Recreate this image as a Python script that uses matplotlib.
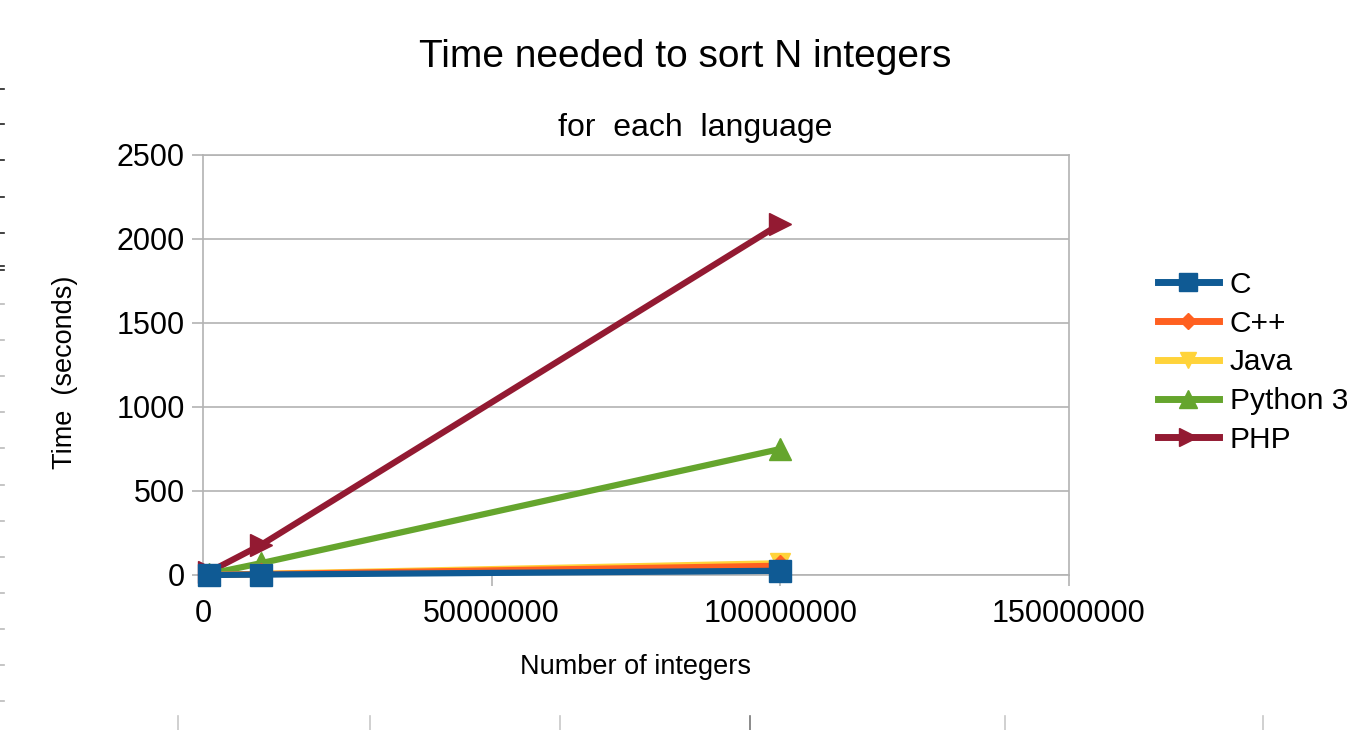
import matplotlib
matplotlib.use("Agg")
import matplotlib.pyplot as plt
from matplotlib.lines import Line2D

plt.rcParams['font.family'] = ['Liberation Sans', 'DejaVu Sans']

n_values = [1000000, 10000000, 100000000]
series_names = ["C", "C++", "Java", "Python 3", "PHP"]
c_times = [0.2, 2.5, 25]
cpp_times = [0.4, 5, 55]
java_times = [0.8, 7, 70]
python_times = [6, 70, 750]
php_times = [17, 178, 2090]
y_ticks = [0, 500, 1000, 1500, 2000, 2500]
x_ticks = [0, 50000000, 100000000, 150000000]

colors = ["#0f5a94", "#ff6020", "#ffd33a", "#65a52d", "#931a32"]
markers = ["s", "D", "v", "^", ">"]
msizes = [16, 11, 15, 16, 16]
all_times = [c_times, cpp_times, java_times, python_times, php_times]

W, H = 1366, 730
fig = plt.figure(figsize=(W / 100, H / 100), dpi=100)
ax = fig.add_axes([203 / W, 1 - 575 / H, (1069 - 203) / W, (575 - 155) / H])

order = [4, 3, 2, 1, 0]
for i in order:
    ax.plot(n_values, all_times[i], color=colors[i], lw=4.5, marker=markers[i],
            markersize=msizes[i], markeredgecolor=colors[i], solid_capstyle='butt',
            zorder=3 + (5 - i), clip_on=False)

ax.set_xlim(0, 150000000)
ax.set_ylim(0, 2500)
ax.set_xticks(x_ticks)
ax.set_xticklabels([str(v) for v in x_ticks])
ax.set_yticks(y_ticks)
ax.set_yticklabels([str(v) for v in y_ticks])
ax.grid(True, axis='y', color='#b3b3b3', lw=1.2)
ax.grid(False, axis='x')
for s in ax.spines.values():
    s.set_color('#b3b3b3')
    s.set_linewidth(1.2)
ax.tick_params(axis='both', colors='#b3b3b3', length=8, width=1.2, labelsize=22,
               labelcolor='black')
ax.tick_params(axis='x', pad=9)
ax.tick_params(axis='y', pad=5)

ax.set_xlabel("Number of integers", fontsize=19.5, labelpad=18)
ax.set_ylabel("Time  (seconds)", fontsize=19.5)
ax.yaxis.set_label_coords((65 - 203) / (1069 - 203), (575 - 372) / (575 - 155))
ax.yaxis.label.set_va('center')

fig.text(685 / W, 1 - 57 / H, "Time needed to sort N integers", fontsize=28,
         ha='center', va='center')
fig.text(695 / W, 1 - 128 / H, "for  each  language", fontsize=23,
         ha='center', va='center')

handles = [Line2D([0], [0], color=colors[i], lw=5, marker=markers[i],
                  markersize=msizes[i] - 3, markeredgecolor=colors[i])
           for i in range(5)]
leg = fig.legend(handles, series_names, loc='upper left',
                 bbox_to_anchor=(1131 / W, 1 - 244 / H), frameon=False,
                 fontsize=21.5, handlelength=2.05, handletextpad=0.35,
                 labelspacing=0.36)

# decorative edge ticks (screenshot artifacts)
dark_ys = [89, 124, 160, 197, 233, 266, 270]
light_ys = [304, 340, 376, 412, 448, 485, 521, 557, 593, 629, 665, 701]
for y in dark_ys:
    fig.add_artist(Line2D([0, 4 / W], [1 - y / H, 1 - y / H], color='#222222', lw=1.2))
for y in light_ys:
    fig.add_artist(Line2D([0, 4 / W], [1 - y / H, 1 - y / H], color='#bbbbbb', lw=1.2))
bottom_xs = [178, 370, 560, 750, 1005, 1263]
for x in bottom_xs:
    c = '#777777' if x == 750 else '#c8c8c8'
    fig.add_artist(Line2D([x / W, x / W], [0, 14 / H], color=c, lw=1.2))

fig.savefig("out.png", dpi=100)
